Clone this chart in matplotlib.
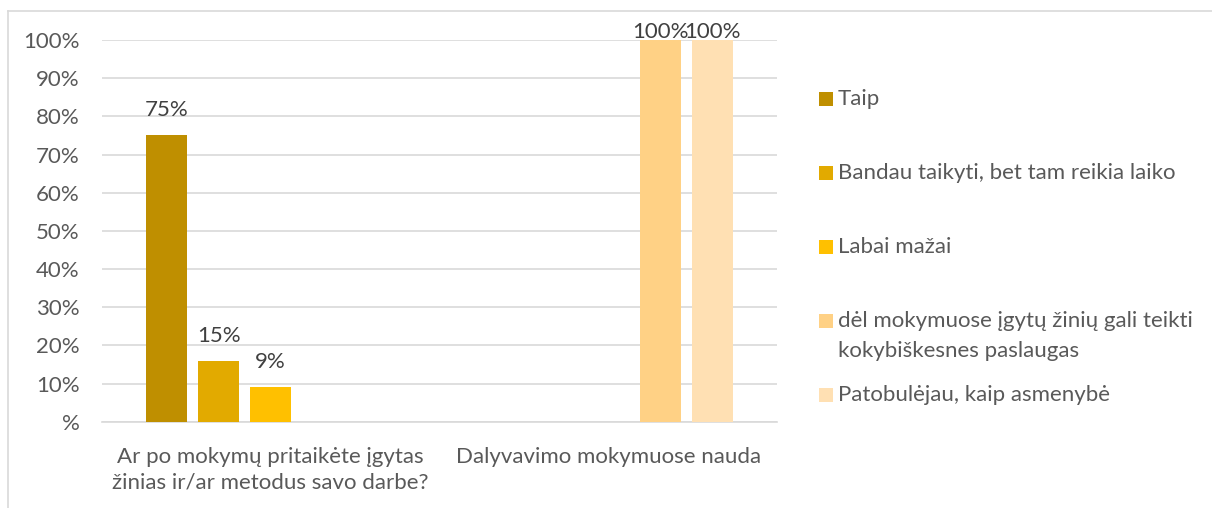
import matplotlib
matplotlib.use("Agg")
import matplotlib.pyplot as plt
from matplotlib.patches import Rectangle
import numpy as np

plt.rcParams['font.family'] = ['Lato', 'DejaVu Sans']

# data
categories = ["Ar po mokymų pritaikėte įgytas\nžinias ir/ar metodus savo darbe?",
              "Dalyvavimo mokymuose nauda"]
series = ["Taip",
          "Bandau taikyti, bet tam reikia laiko",
          "Labai mažai",
          "dėl mokymuose įgytų žinių gali teikti\nkokybiškesnes paslaugas",
          "Patobulėjau, kaip asmenybė"]
values = [[75, 0], [16, 0], [9, 0], [0, 100], [0, 100]]
value_labels = [["75%", ""], ["15%", ""], ["9%", ""], ["", "100%"], ["", "100%"]]
colors = ["#BF8F00", "#E2AA00", "#FFC000", "#FFD185", "#FFE0B3"]
yticks = [0, 10, 20, 30, 40, 50, 60, 70, 80, 90, 100]
ytick_labels = ["%", "10%", "20%", "30%", "40%", "50%", "60%", "70%", "80%", "90%", "100%"]

W, H = 1212, 508
FS = 16
fig = plt.figure(figsize=(W / 100, H / 100), dpi=100)
ax = fig.add_axes([102 / W, (H - 421.7) / H, 675 / W, (421.7 - 40) / H])

# outer chart frame
fig.add_artist(plt.Line2D([8 / W, 8 / W], [0, (H - 10.5) / H], color="#d9d9d9", lw=1.2))
fig.add_artist(plt.Line2D([8 / W, 1], [(H - 10.5) / H, (H - 10.5) / H], color="#d9d9d9", lw=1.2))

x = np.arange(len(categories))
slot = 0.154
bw = 0.1224
for i, (name, vals) in enumerate(zip(series, values)):
    pos = x + (i - 2) * slot
    bars = ax.bar(pos, vals, width=bw, color=colors[i], zorder=3)
    for b, v, lab in zip(bars, vals, value_labels[i]):
        if not lab:
            continue
        off = 5.5 if v >= 100 else 18
        ax.annotate(lab, (b.get_x() + b.get_width() / 2, v), xytext=(0, off),
                    textcoords="offset points", ha="center", va="center",
                    fontsize=FS, color="#404040")

ax.set_xlim(-0.5, 1.5)
ax.set_ylim(0, 100)
ax.set_yticks(yticks)
ax.set_yticklabels(ytick_labels, fontsize=FS, color="#595959")
ax.yaxis.grid(True, color="#d9d9d9", lw=1.2, zorder=0)
ax.tick_params(axis="y", length=0, pad=16)
ax.tick_params(axis="x", length=0, pad=18)
ax.set_xticks(x)
ax.set_xticklabels(categories, fontsize=FS, color="#595959", linespacing=1.35)
for s in ["top", "right", "left"]:
    ax.spines[s].set_visible(False)
ax.spines["bottom"].set_color("#d9d9d9")
ax.spines["bottom"].set_linewidth(1.2)

# legend on the right
leg_y = [99, 173, 247, 321, 395]
for name, c, yy in zip(series, colors, leg_y):
    fig.add_artist(Rectangle((819 / W, (H - yy - 7) / H), 14 / W, 14 / H,
                             facecolor=c, edgecolor="none"))
    lines = name.split("\n")
    for k, line in enumerate(lines):
        fig.text(838 / W, (H - yy - 30 * k) / H, line, fontsize=FS,
                 color="#595959", va="center", ha="left")

fig.savefig("out.png", dpi=100)
